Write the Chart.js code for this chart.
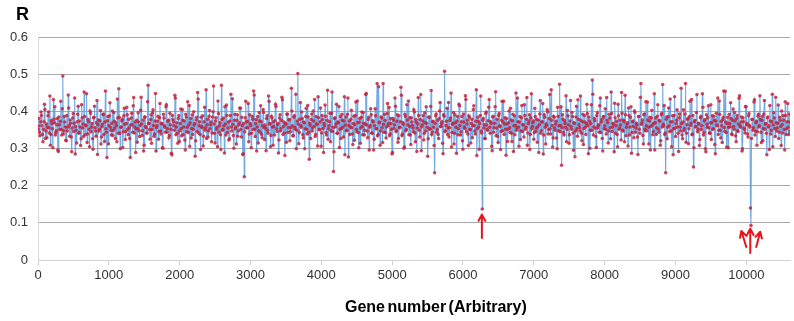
<!DOCTYPE html>
<html><head><meta charset="utf-8">
<script src="https://cdn.jsdelivr.net/npm/chart.js"></script>
<style>
html,body{margin:0;padding:0;background:#fff;overflow:hidden}
#wrap{position:relative;width:794px;height:321px}
#c{position:absolute;left:0;top:0}
.lbl{position:absolute;font-family:"Liberation Sans",Arial,sans-serif;font-weight:bold;color:#000;white-space:nowrap}
</style></head><body>
<div id="wrap"><canvas id="c" width="794" height="321"></canvas>
<div class="lbl" style="left:16px;top:4px;font-size:18px">R</div>
<div class="lbl" style="left:345px;top:298px;font-size:16px;word-spacing:-2px">Gene number (Arbitrary)</div>
</div>
<script>
const geneStep = 14;
// R values for genes 0, 14, 28, ...
const rValuesA = [
.352,.381,.334,.398,.361,.318,.372,.405,.347,.329,.388,.356,.441,.338,.367,.302,.379,.412,.343,.364,.296,.385,.351,.427,.336,
.495,.348,.371,.322,.389,.357,.409,.333,.368,.291,.382,.346,.436,.359,.315,.392,.341,.374,.308,.418,.355,.332,.386,.363,.447,
.339,.372,.305,.395,.358,.326,.383,.414,.347,.369,.284,.377,.352,.402,.331,.366,.393,.319,.455,.344,.375,.312,.388,.357,.336,
.401,.349,.373,.327,.362,.433,.341,.384,.299,.358,.379,.345,.408,.324,.367,.391,.337,.356,.276,.382,.364,.415,.342,.371,.353,
.317,.396,.348,.362,.438,.335,.377,.309,.385,.356,.342,.470,.368,.325,.391,.351,.404,.333,.374,.293,.361,.387,.346,.421,.339,
.366,.301,.382,.357,.412,.344,.373,.329,.395,.352,.283,.378,.361,.443,.337,.369,.314,.389,.348,.406,.334,.376,.358,.323,.392,
.345,.426,.363,.306,.381,.354,.338,.399,.367,.321,.384,.451,.342,.372,.297,.359,.388,.333,.411,.356,.327,.379,.347,.402,.364,
.318,.385,.468,.341,.374,.352,.305,.394,.361,.337,.470,.349,.382,.288,.366,.417,.343,.371,.326,.389,.358,.434,.335,.376,.353,
.312,.391,.347,.369,.408,.331,.362,.286,.224,.383,.355,.373,.421,.339,.367,.302,.386,.351,.444,.332,.378,.358,.315,.397,.344,
.372,.329,.405,.356,.363,.294,.388,.341,.427,.367,.335,.382,.309,.359,.375,.413,.346,.368,.323,.391,.354,.438,.338,.371,.281,
.365,.392,.343,.377,.321,.356,.401,.334,.384,.357,.446,.349,.502,.313,.379,.362,.398,.337,.371,.299,.386,.352,.416,.344,.368,
.327,.393,.355,.374,.432,.338,.366,.307,.383,.351,.409,.342,.378,.289,.361,.387,.336,.457,.353,.372,.318,.395,.346,.238,.381,
.358,.419,.341,.369,.303,.386,.354,.376,.331,.439,.363,.348,.392,.277,.374,.357,.403,.339,.367,.322,.389,.352,.428,.343,.371,
.314,.384,.359,.397,.336,.366,.448,.347,.378,.296,.362,.391,.341,.372,.325,.407,.353,.475,.338,.369,.309,.385,.356,.475,.344,
.376,.328,.394,.361,.411,.339,.367,.285,.381,.354,.436,.346,.373,.317,.388,.357,.465,.335,.369,.301,.392,.348,.418,.363,.337,
.383,.311,.371,.355,.404,.342,.378,.292,.366,.389,.331,.445,.358,.374,.323,.396,.347,.368,.279,.384,.352,.413,.338,.372,.357,
.235,.388,.344,.376,.327,.401,.359,.367,.314,.391,.508,.348,.373,.338,.424,.356,.382,.304,.365,.397,.341,.369,.287,.386,.353,
.415,.336,.372,.321,.393,.358,.442,.345,.377,.308,.384,.351,.367,.329,.405,.362,.339,.458,.354,.373,.298,.389,.347,.137,.381,
.364,.327,.398,.352,.375,.432,.341,.368,.294,.387,.356,.412,.334,.379,.316,.394,.359,.346,.427,.371,.338,.383,.282,.366,.352,
.401,.343,.377,.319,.392,.361,.337,.449,.355,.372,.306,.386,.348,.416,.364,.331,.389,.357,.437,.342,.374,.297,.382,.353,.369,
.325,.408,.346,.378,.358,.289,.393,.341,.371,.421,.336,.384,.312,.362,.398,.351,.445,.339,.376,.304,.387,.355,.366,.328,.411,
.348,.473,.362,.255,.391,.343,.375,.357,.318,.402,.364,.337,.429,.352,.386,.295,.368,.347,.414,.333,.379,.356,.441,.341,.372,
.311,.389,.358,.367,.394,.286,.374,.349,.418,.484,.336,.381,.355,.303,.396,.362,.344,.436,.371,.327,.385,.353,.407,.339,.376,
.315,.392,.356,.452,.346,.368,.291,.383,.361,.338,.419,.352,.377,.323,.395,.347,.372,.443,.334,.366,.307,.389,.358,.412,.343,
.374,.329,.397,.355,.363,.284,.386,.341,.475,.369,.335,.391,.352,.426,.348,.377,.312,.384,.359,.403,.337,.368,.296,.382,.356,
.418,.344,.373,.321,.394,.472,.361,.338,.235,.385,.357,.409,.346,.371,.305,.388,.353,.439,.332,.376,.358,.292,.393,.347,.367,
.326,.404,.354,.475,.341,.379,.313,.386,.362,.432,.339,.250,.372,.358,.397,.345,.368,.308,.383,.351,.447,.336,.374,.299,.391,
.357,.415,.342,.369,.324,.388,.353,.376,.286,.395,.361,.338,.428,.349,.373,.316,.384,.356,.454,.343,.367,.302,.392,.358,.381,
.337,.406,.352,.374,.318,.389,.346,.435,.361,.371,.293,.383,.355,.342,.412,.367,.331,.394,.358,.093,.378,.349,.425,.336,.369,
.309,.387,.358,.442,.344,.376,.321,.393,.352,.367,.283,.385,.361,.416,.339,.372,.305,.396,.354,.438,.347,.368,.327,.384,.359,
.401,.342,.376,.296,.389,.353,.421,.338,.371
];
// R values for genes 7, 21, 35, ... (between the genes above)
const rValuesB = [
.361,.344,.372,.389,.338,.352,.419,.327,.366,.357,.398,.342,.309,.375,.353,.432,.369,.336,.348,.381,.292,.364,.373,.351,.407,
.339,.386,.358,.321,.347,.444,.362,.377,.331,.355,.394,.368,.285,.349,.372,.414,.343,.358,.326,.383,.366,.452,.337,.361,.316,
.378,.352,.401,.345,.367,.298,.384,.356,.333,.429,.364,.347,.375,.312,.359,.391,.338,.371,.353,.276,.386,.362,.423,.349,.368,
.335,.397,.355,.369,.318,.382,.461,.341,.357,.374,.303,.388,.365,.346,.411,.352,.379,.327,.363,.395,.344,.437,.358,.289,.376,
.354,.371,.332,.403,.366,.348,.293,.385,.359,.342,.426,.367,.351,.378,.314,.396,.362,.339,.448,.356,.373,.325,.383,.347,.368,
.302,.392,.361,.344,.418,.353,.376,.335,.364,.287,.389,.372,.349,.436,.358,.341,.381,.319,.367,.354,.405,.337,.374,.296,.385,
.357,.343,.416,.369,.328,.391,.352,.363,.279,.377,.346,.433,.361,.338,.384,.356,.307,.372,.349,.458,.364,.331,.387,.353,.371,
.342,.399,.366,.315,.383,.357,.428,.344,.369,.297,.378,.352,.361,.412,.336,.389,.355,.323,.374,.446,.347,.365,.301,.392,.358,
.376,.333,.363,.409,.351,.384,.284,.368,.345,.427,.372,.356,.318,.391,.362,.341,.379,.455,.352,.367,.293,.386,.348,.374,.415,
.338,.361,.397,.324,.355,.381,.349,.441,.366,.305,.387,.358,.372,.336,.419,.353,.364,.288,.382,.347,.376,.431,.359,.342,.368,
.317,.393,.356,.378,.345,.462,.361,.334,.388,.352,.299,.374,.366,.343,.424,.357,.381,.328,.369,.353,.408,.339,.385,.271,.362,
.378,.347,.401,.359,.332,.386,.365,.439,.351,.372,.306,.389,.354,.367,.417,.343,.376,.325,.361,.395,.348,.452,.357,.291,.383,
.366,.341,.371,.413,.352,.327,.392,.358,.374,.283,.385,.349,.436,.362,.338,.379,.356,.311,.387,.364,.425,.345,.369,.302,.381,
.355,.398,.337,.368,.349,.445,.363,.329,.384,.357,.407,.342,.375,.296,.361,.388,.353,.334,.466,.371,.347,.382,.316,.365,.392,
.343,.358,.421,.367,.335,.381,.352,.289,.376,.363,.414,.348,.391,.327,.356,.372,.443,.339,.365,.304,.386,.351,.377,.428,.359,
.336,.383,.362,.345,.398,.318,.371,.355,.437,.349,.378,.294,.364,.389,.341,.369,.412,.357,.326,.385,.353,.456,.344,.373,.308,
.367,.393,.351,.338,.381,.424,.359,.372,.286,.387,.346,.362,.408,.355,.331,.376,.449,.343,.368,.312,.391,.357,.374,.337,.419,
.362,.345,.386,.298,.371,.354,.432,.366,.339,.388,.351,.315,.379,.361,.415,.347,.373,.281,.384,.358,.367,.441,.342,.376,.355,
.327,.394,.363,.349,.411,.357,.372,.306,.385,.344,.368,.453,.355,.333,.389,.361,.297,.376,.348,.427,.366,.352,.381,.319,.369,
.356,.408,.341,.375,.292,.388,.362,.349,.436,.357,.371,.324,.383,.346,.364,.418,.352,.379,.309,.367,.391,.338,.447,.359,.374,
.343,.386,.355,.317,.377,.364,.429,.348,.372,.285,.391,.357,.366,.404,.339,.381,.353,.458,.362,.328,.384,.349,.373,.299,.387,
.361,.345,.412,.356,.379,.336,.367,.442,.351,.388,.314,.374,.359,.397,.342,.369,.278,.385,.353,.431,.364,.347,.376,.321,.392,
.354,.371,.338,.419,.362,.385,.301,.367,.349,.446,.358,.375,.332,.389,.356,.364,.415,.343,.378,.293,.386,.361,.352,.437,.369,
.347,.382,.326,.394,.358,.366,.422,.341,.373,.305,.388,.355,.363,.451,.349,.376,.318,.391,.357,.369,.409,.336,.384,.287,.372,
.359,.401,.344,.368,.331,.386,.352,.438,.365,.377,.312,.393,.348,.361,.425,.357,.374,.296,.382,.363,.345,.447,.369,.338,.387,
.352,.376,.309,.391,.358,.365,.416,.342,.379,.326,.386,.361,.433,.347,.372,.283,.389,.355,.367,.404,.341,.383,.358,.462,.336,
.371,.348,.393,.317,.364,.381,.353,.427,.368,.337,.389,.302,.376,.359,.445,.352,.366,.324,.387,.361,.411,.343,.378,.291,.365,
.383,.356,.341,.418,.369,.352,.387,.311,.374,.363,.436,.349,.392,.328,.361,.378,.455,.346,.371,.304,.384,.357,.367,.423,.339,
.376,.359,.397,.334,.381,.348,.366,.442,.357,.385,.299,.372,.351,.413,.364,.339,.388,.362,.140,.327,.379,.356,.431,.347,.373,
.345,.392,.361,.378,.316,.387,.354,.429,.366,.341,.383,.358,.297,.374,.349,.446,.363,.382,.332,.369,.355,.417,.344,.376,.308,
.364,.389,.351,.426,.338,.372,.357,.393,.346
];
const xTickValues = [0,1000,2000,3000,4000,5000,6000,7000,8000,9000,10000];
const yTickValues = [0,0.1,0.2,0.3,0.4,0.5,0.6];
const arrowTail = [[6267,0.059],[10000,0.035],[10056,0.019],[10140,0.035]];
const arrowHead = [[6267,0.122],[9930,0.078],[10056,0.084],[10197,0.076]];

const points = [];
rValuesA.forEach((v,i)=>{
  points.push({x:i*geneStep, y:v});
  if (i < rValuesB.length) points.push({x:i*geneStep + geneStep/2, y:rValuesB[i]});
});

const arrowPlugin = {
  id:'arrows',
  afterDatasetsDraw(chart){
    const {ctx, scales:{x,y}} = chart;
    ctx.save();
    ctx.strokeStyle = '#e5141c';
    ctx.lineWidth = 2;
    ctx.lineCap = 'round';
    for(let i=0;i<arrowTail.length;i++){
      const x0=x.getPixelForValue(arrowTail[i][0]), y0=y.getPixelForValue(arrowTail[i][1]);
      const x1=x.getPixelForValue(arrowHead[i][0]), y1=y.getPixelForValue(arrowHead[i][1]);
      const a=Math.atan2(y1-y0,x1-x0), h=7;
      ctx.beginPath();
      ctx.moveTo(x0,y0); ctx.lineTo(x1,y1);
      ctx.moveTo(x1,y1); ctx.lineTo(x1-h*Math.cos(a-0.5), y1-h*Math.sin(a-0.5));
      ctx.moveTo(x1,y1); ctx.lineTo(x1-h*Math.cos(a+0.5), y1-h*Math.sin(a+0.5));
      ctx.stroke();
    }
    ctx.restore();
  }
};

const tickFont = {family:'"Liberation Sans", Arial, sans-serif', size:13};

new Chart(document.getElementById('c'), {
  type:'line',
  data:{datasets:[{
    data:points,
    borderColor:'rgba(100,160,222,0.9)',
    borderWidth:1.1,
    tension:0,
    pointRadius:1.75,
    pointBorderWidth:0,
    pointBackgroundColor:'rgba(196,36,62,0.85)'
  }]},
  options:{
    responsive:false,
    animation:false,
    devicePixelRatio:1,
    layout:{padding:{top:37,left:0,right:0,bottom:0}},
    plugins:{legend:{display:false},tooltip:{enabled:false}},
    scales:{
      x:{
        type:'linear', min:0, max:10617,
        afterBuildTicks(s){ s.ticks = xTickValues.map(v=>({value:v})); },
        afterFit(s){ s.height = 61; },
        ticks:{font:tickFont, color:'#333', padding:3, maxRotation:0, autoSkip:false, callback:v=>String(v)},
        grid:{drawOnChartArea:false, drawTicks:true, tickLength:5, color:'#d0d0d0'},
        border:{color:'#d0d0d0'}
      },
      y:{
        min:0, max:0.6,
        afterBuildTicks(s){ s.ticks = yTickValues.map(v=>({value:v})); },
        afterFit(s){ s.width = 38; },
        ticks:{font:tickFont, color:'#333', padding:10, callback:v=> v===0 ? '0' : v.toFixed(1)},
        grid:{drawTicks:false, color:c=> c.tick && c.tick.value===0 ? '#d0d0d0' : '#a8a8a8'},
        border:{color:'#d8d8d8'}
      }
    }
  },
  plugins:[arrowPlugin]
});
</script>
</body></html>
